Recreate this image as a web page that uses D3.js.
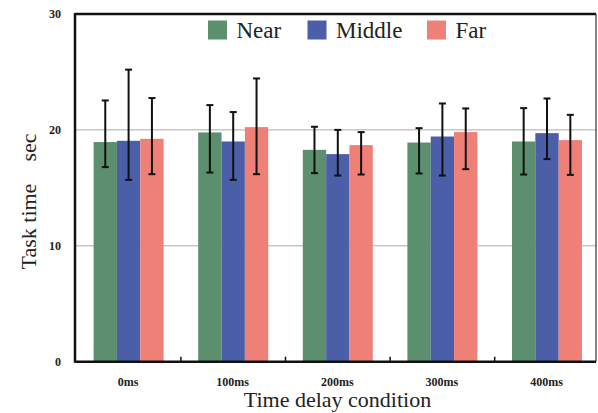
<!DOCTYPE html>
<html><head><meta charset="utf-8">
<script src="https://cdn.jsdelivr.net/npm/d3@7"></script>
<style>body{margin:0;background:#fff}svg{display:block}text{font-family:"Liberation Serif","Times New Roman",serif}</style>
</head><body>
<svg id="c" width="598" height="413"></svg>
<script>
const categories = ["0ms","100ms","200ms","300ms","400ms"];
const seriesNames = ["Near","Middle","Far"];
const nearMean  = [18.95, 19.78, 18.28, 18.91, 19.0];
const nearLow   = [16.79, 16.32, 16.27, 16.24, 16.15];
const nearHigh  = [22.54, 22.14, 20.27, 20.15, 21.88];
const middleMean= [19.06, 19.0, 17.91, 19.43, 19.72];
const middleLow = [15.69, 15.69, 16.06, 16.06, 17.48];
const middleHigh= [25.2, 21.54, 20.0, 22.28, 22.71];
const farMean   = [19.23, 20.24, 18.69, 19.81, 19.12];
const farLow    = [16.18, 16.18, 16.15, 16.61, 16.12];
const farHigh   = [22.75, 24.44, 19.81, 21.85, 21.3];
const yTicks = [0, 10, 20, 30];
const colors = ["#5b8f6e", "#4a5fa8", "#ee8078"];

const series = [
  {name: seriesNames[0], mean: nearMean, low: nearLow, high: nearHigh},
  {name: seriesNames[1], mean: middleMean, low: middleLow, high: middleHigh},
  {name: seriesNames[2], mean: farMean, low: farLow, high: farHigh}
];

const svg = d3.select("#c");
const L = 75, R = 596, T = 14, B = 361.7;
const y = d3.scaleLinear().domain([0, 30]).range([B, T]);
const x0 = d3.scaleBand().domain(categories).range([76.3, 599.3]).paddingInner(0).paddingOuter(0);
const groupW = 70;
const x1 = d3.scaleBand().domain(seriesNames).range([0, groupW]).padding(0);

// gridlines
svg.append("g").selectAll("line").data(yTicks.filter(t => t > 0 && t < 30)).join("line")
  .attr("x1", L).attr("x2", R).attr("y1", d => y(d)).attr("y2", d => y(d))
  .attr("stroke", "#aaa").attr("stroke-width", 1);

// bars
const data = [];
categories.forEach((c, i) => series.forEach((s, j) => data.push({c, s: s.name, j, mean: s.mean[i], low: s.low[i], high: s.high[i]})));
const gx = c => x0(c) + (x0.bandwidth() - groupW) / 2;
svg.append("g").selectAll("rect").data(data).join("rect")
  .attr("x", d => gx(d.c) + x1(d.s))
  .attr("width", x1.bandwidth())
  .attr("y", d => y(d.mean))
  .attr("height", d => y(0) - y(d.mean))
  .attr("fill", d => colors[d.j]);

// error bars
const eb = svg.append("g").attr("stroke", "#111").attr("stroke-width", 2);
data.forEach(d => {
  const cx = gx(d.c) + x1(d.s) + x1.bandwidth() / 2;
  eb.append("line").attr("x1", cx).attr("x2", cx).attr("y1", y(d.low)).attr("y2", y(d.high));
  eb.append("line").attr("x1", cx - 3.5).attr("x2", cx + 3.5).attr("y1", y(d.low)).attr("y2", y(d.low));
  eb.append("line").attr("x1", cx - 3.5).attr("x2", cx + 3.5).attr("y1", y(d.high)).attr("y2", y(d.high));
});

// frame
svg.append("line").attr("x1", L).attr("x2", R).attr("y1", T).attr("y2", T).attr("stroke", "#111").attr("stroke-width", 2.5);
svg.append("line").attr("x1", R).attr("x2", R).attr("y1", T).attr("y2", B).attr("stroke", "#333").attr("stroke-width", 1.2);
svg.append("line").attr("x1", L).attr("x2", L).attr("y1", T - 1).attr("y2", B + 1).attr("stroke", "#111").attr("stroke-width", 2.5);
svg.append("line").attr("x1", L).attr("x2", R).attr("y1", B).attr("y2", B).attr("stroke", "#111").attr("stroke-width", 2.5);

// x separators ticks
svg.append("g").selectAll("line").data(categories.slice(1)).join("line")
  .attr("x1", d => x0(d)).attr("x2", d => x0(d)).attr("y1", B).attr("y2", B - 5)
  .attr("stroke", "#111").attr("stroke-width", 1.5);

// y tick labels
svg.append("g").selectAll("text").data(yTicks).join("text")
  .attr("x", 61).attr("y", d => y(d)).attr("dy", "0.35em")
  .attr("text-anchor", "end")
  .attr("font-weight", "bold").attr("font-size", 12)
  .attr("fill", "#222").text(d => d);

// x tick labels
svg.append("g").selectAll("text").data(categories).join("text")
  .attr("x", d => x0(d) + x0.bandwidth() / 2 - 0.5).attr("y", 385.5)
  .attr("text-anchor", "middle")
  .attr("font-weight", "bold").attr("font-size", 12)
  .attr("fill", "#222").text(d => d);

// axis titles
svg.append("text").attr("x", (L + R) / 2 + 2).attr("y", 407).attr("text-anchor", "middle")
  .attr("font-size", 22).attr("fill", "#222")
  .text("Time delay condition");
svg.append("text").attr("transform", "translate(36,201.5) rotate(-90)")
  .attr("text-anchor", "middle").style("white-space", "pre")
  .attr("font-size", 22).attr("fill", "#222")
  .text("Task time    sec");

// legend
const legX = [208, 307.5, 427];
const lg = svg.append("g");
series.forEach((s, j) => {
  lg.append("rect").attr("x", legX[j]).attr("y", 20.5).attr("width", 19).attr("height", 19).attr("fill", colors[j]);
  lg.append("text").attr("x", legX[j] + 28.5).attr("y", 37.5)
    .attr("font-size", 23).attr("fill", "#222").text(s.name);
});
</script>
</body></html>
